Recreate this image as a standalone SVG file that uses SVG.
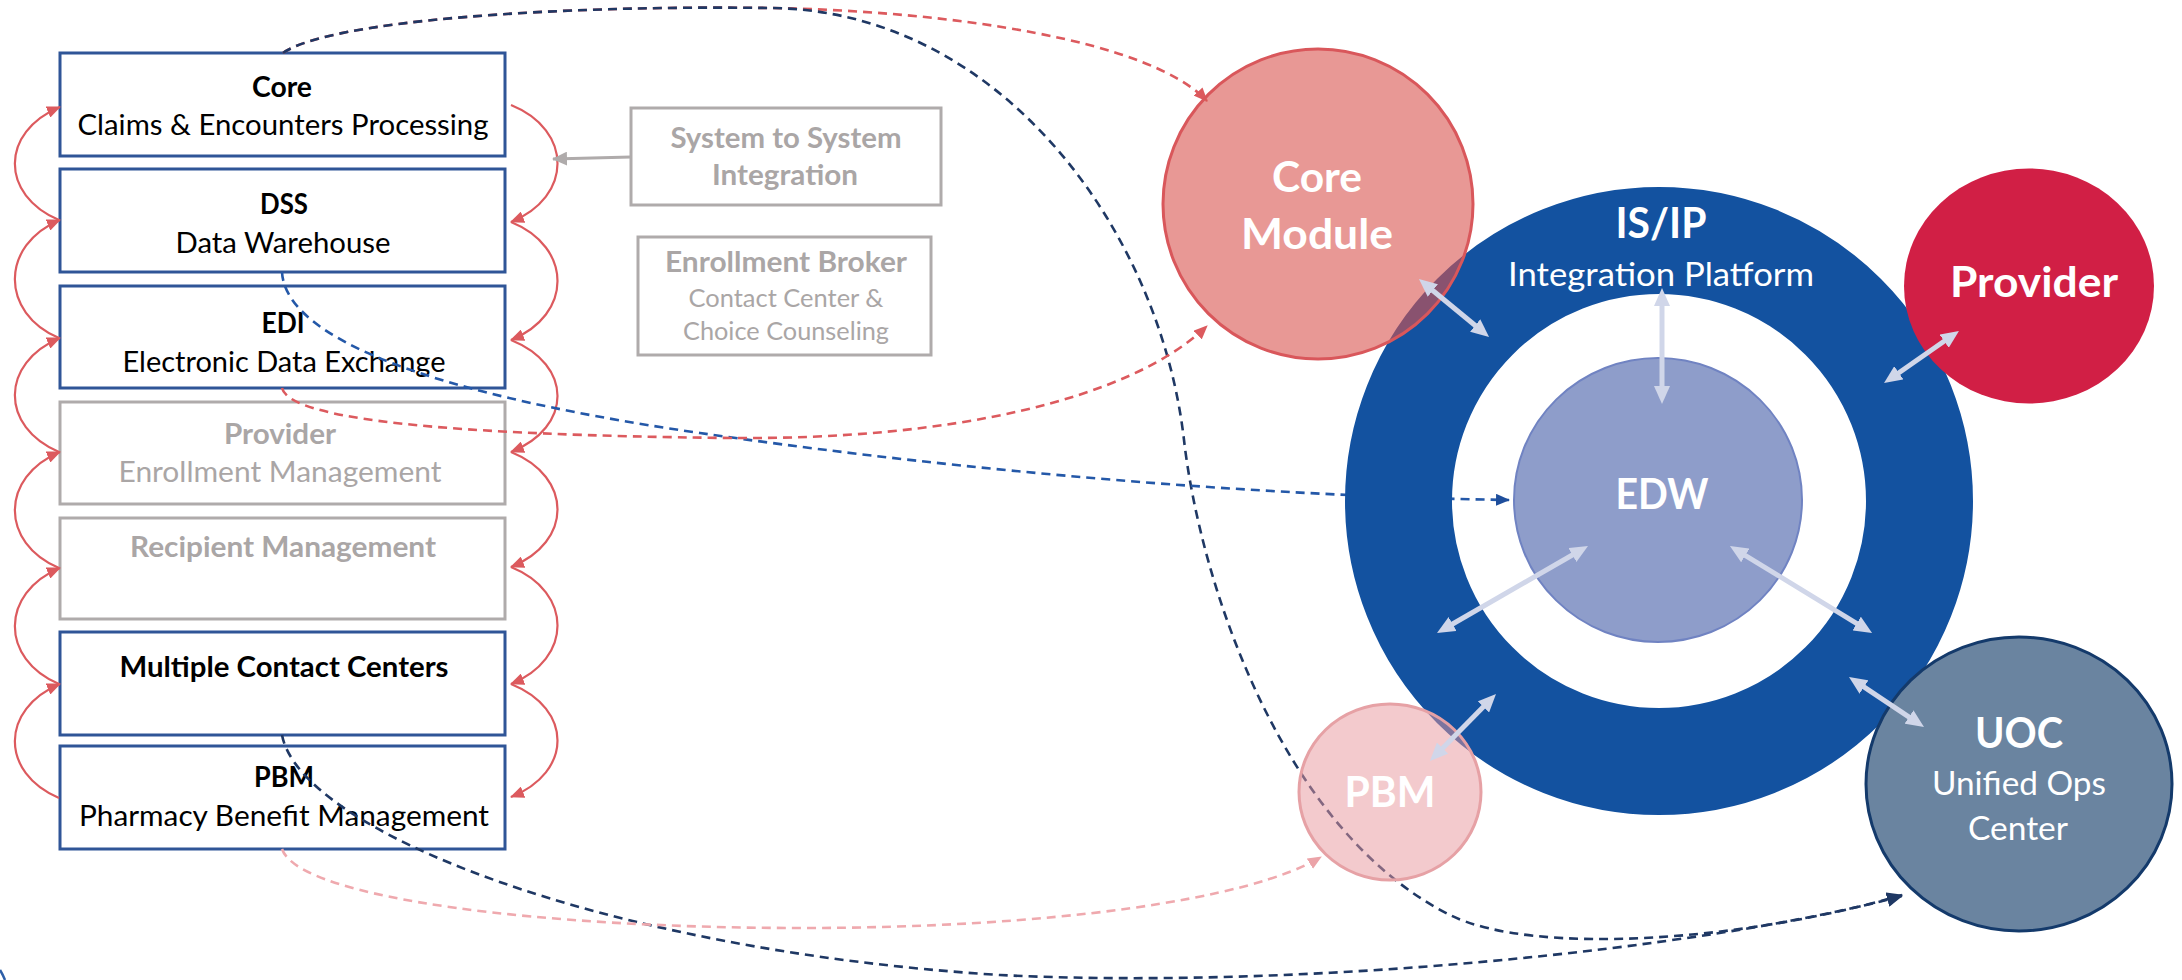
<svg xmlns="http://www.w3.org/2000/svg" width="2182" height="980" viewBox="0 0 2182 980">
<style>
.box{fill:none;stroke:#2F5597;stroke-width:3}
.gbox{fill:none;stroke:#AFABAB;stroke-width:3}
.t{font-family:Lato,'Liberation Sans',sans-serif;text-anchor:middle}
.b{font-weight:700}
.k{fill:#000}
.g{fill:#AAA6A6}
.w{fill:#fff}
.s29{font-size:29px}
.s28{font-size:28px}
.s25{font-size:25px}
.s42{font-size:42px}
.s33{font-size:32.5px}
.arc{fill:none;stroke:#DC5A5E;stroke-width:2.2;marker-end:url(#mRed)}
.dash{fill:none;stroke-width:2.6;stroke-dasharray:9 6}
.hub{stroke:#D0D6E9;stroke-width:5;marker-start:url(#mHub);marker-end:url(#mHub)}
</style>
<defs>
<marker id="mRed" markerUnits="userSpaceOnUse" viewBox="0 0 14 12" markerWidth="14" markerHeight="12" refX="13" refY="6" orient="auto"><path d="M0,0 L14,6 L0,12 z" fill="#DC5A5E"/></marker>
<marker id="mNavy" markerUnits="userSpaceOnUse" viewBox="0 0 16 14" markerWidth="16" markerHeight="14" refX="15" refY="7" orient="auto"><path d="M0,0 L16,7 L0,14 z" fill="#1F3864"/></marker>
<marker id="mBlue" markerUnits="userSpaceOnUse" viewBox="0 0 14 12" markerWidth="14" markerHeight="12" refX="13" refY="6" orient="auto"><path d="M0,0 L14,6 L0,12 z" fill="#1E4E9C"/></marker>
<marker id="mPink" markerUnits="userSpaceOnUse" viewBox="0 0 14 12" markerWidth="14" markerHeight="12" refX="13" refY="6" orient="auto"><path d="M0,0 L14,6 L0,12 z" fill="#EBA3A8"/></marker>
<marker id="mGray" markerUnits="userSpaceOnUse" viewBox="0 0 15 14" markerWidth="15" markerHeight="14" refX="14" refY="7" orient="auto"><path d="M0,0 L15,7 L0,14 z" fill="#AFABAB"/></marker>
<marker id="mHub" markerUnits="userSpaceOnUse" viewBox="0 0 18 16" markerWidth="18" markerHeight="16" refX="6" refY="8" orient="auto-start-reverse"><path d="M0,0 L18,8 L0,16 z" fill="#D0D6E9"/></marker>
</defs>

<g id="box-core"><rect class="box" x="60" y="53" width="445" height="103"/>
<text class="t b k s29" x="282" y="97" textLength="60" lengthAdjust="spacingAndGlyphs">Core</text>
<text class="t k s29" x="283" y="135" textLength="411" lengthAdjust="spacingAndGlyphs">Claims &amp; Encounters Processing</text></g>
<g id="box-dss"><rect class="box" x="60" y="169" width="445" height="103"/>
<text class="t b k s29" x="284" y="214" textLength="48" lengthAdjust="spacingAndGlyphs">DSS</text>
<text class="t k s29" x="283" y="253" textLength="215" lengthAdjust="spacingAndGlyphs">Data Warehouse</text></g>
<g id="box-edi"><rect class="box" x="60" y="286" width="445" height="102"/>
<text class="t b k s29" x="283" y="333" textLength="43" lengthAdjust="spacingAndGlyphs">EDI</text>
<text class="t k s29" x="284" y="372" textLength="323" lengthAdjust="spacingAndGlyphs">Electronic Data Exchange</text></g>
<g id="box-provider"><rect class="gbox" x="60" y="402" width="445" height="102"/>
<text class="t b g s29" x="280" y="444" textLength="112" lengthAdjust="spacingAndGlyphs">Provider</text>
<text class="t g s29" x="280" y="482" textLength="323" lengthAdjust="spacingAndGlyphs">Enrollment Management</text></g>
<g id="box-recipient"><rect class="gbox" x="60" y="518" width="445" height="101"/>
<text class="t b g s29" x="283" y="557" textLength="306" lengthAdjust="spacingAndGlyphs">Recipient Management</text></g>
<g id="box-contact"><rect class="box" x="60" y="632" width="445" height="103"/>
<text class="t b k s29" x="284" y="677" textLength="329" lengthAdjust="spacingAndGlyphs">Multiple Contact Centers</text></g>
<g id="box-pbm"><rect class="box" x="60" y="746" width="445" height="103"/>
<text class="t b k s29" x="284" y="787" textLength="60" lengthAdjust="spacingAndGlyphs">PBM</text>
<text class="t k s29" x="284" y="826" textLength="410" lengthAdjust="spacingAndGlyphs">Pharmacy Benefit Management</text></g>

<g id="box-s2s"><rect class="gbox" x="631" y="108" width="310" height="97"/>
<text class="t b g s28" x="786" y="148" textLength="231" lengthAdjust="spacingAndGlyphs">System to System</text>
<text class="t b g s28" x="785" y="185" textLength="146" lengthAdjust="spacingAndGlyphs">Integration</text></g>
<g id="box-broker"><rect class="gbox" x="638" y="237" width="293" height="118"/>
<text class="t b g s28" x="786" y="272" textLength="242" lengthAdjust="spacingAndGlyphs">Enrollment Broker</text>
<text class="t g s25" x="786" y="307" textLength="195" lengthAdjust="spacingAndGlyphs">Contact Center &amp;</text>
<text class="t g s25" x="786" y="340" textLength="206" lengthAdjust="spacingAndGlyphs">Choice Counseling</text></g>

<g id="connectors">
<path class="arc" d="M59,220 C0,195 0,132 60,107"/>
<path class="arc" d="M59,338 C0,313 0,245 60,220"/>
<path class="arc" d="M59,452 C0,427 0,363 60,338"/>
<path class="arc" d="M59,568 C0,543 0,477 60,452"/>
<path class="arc" d="M59,684 C0,659 0,593 60,568"/>
<path class="arc" d="M59,798 C0,773 0,709 60,684"/>
<path class="arc" d="M511,105 C573,130 573,197 511,222"/>
<path class="arc" d="M511,222 C573,247 573,315 511,340"/>
<path class="arc" d="M511,340 C573,365 573,427 511,452"/>
<path class="arc" d="M511,452 C573,477 573,542 511,567"/>
<path class="arc" d="M511,567 C573,592 573,659 511,684"/>
<path class="arc" d="M511,684 C573,709 573,772 511,797"/>
<path d="M631,157 L553,159" fill="none" stroke="#AFABAB" stroke-width="3" marker-end="url(#mGray)"/>
<path class="dash" stroke="#DC5A5E" d="M283,53 C330,20 560,5 770,8 C950,11 1150,40 1207,101" marker-end="url(#mRed)"/>
<path class="dash" stroke="#1F3864" d="M283,53 C330,20 560,5 770,8 C1000,10 1160,230 1184,440 C1200,580 1280,830 1450,915 C1535,957 1750,940 1902,895" marker-end="url(#mNavy)"/>
<path class="dash" stroke="#2458A8" d="M282,272 C285,330 400,390 700,433 C900,462 1200,495 1509,500" marker-end="url(#mBlue)"/>
<path class="dash" stroke="#DC5A5E" d="M282,388 C290,420 450,435 730,438 C950,440 1130,400 1207,326" marker-end="url(#mRed)"/>
<path class="dash" stroke="#1F3864" d="M282,735 C300,830 600,950 1000,975 C1300,990 1700,950 1902,896" marker-end="url(#mNavy)"/>
<path class="dash" stroke="#EFA9AE" d="M282,849 C300,900 550,928 800,928 C1050,928 1250,900 1321,857" marker-end="url(#mPink)"/>
<path d="M0,970 Q3,975 5,980" fill="none" stroke="#2E5FA8" stroke-width="2.5"/>
</g>

<g id="isip"><circle cx="1659" cy="501" r="260.5" fill="none" stroke="#1352A0" stroke-width="107"/>
<text class="t b w s42" x="1661" y="238" textLength="91" lengthAdjust="spacingAndGlyphs">IS/IP</text>
<text class="t w s33" x="1661" y="286" textLength="306" lengthAdjust="spacingAndGlyphs">Integration Platform</text></g>
<g id="edw"><ellipse cx="1658" cy="500" rx="144" ry="142" fill="#8E9DCA" stroke="#7083C2" stroke-width="2"/>
<text class="t b w s42" x="1662" y="509" textLength="93" lengthAdjust="spacingAndGlyphs">EDW</text></g>
<g id="core-module"><circle cx="1318" cy="204" r="155" fill="#D9534F" fill-opacity="0.6" stroke="#D9575B" stroke-width="3"/>
<text class="t b w s42" x="1317" y="192" textLength="90" lengthAdjust="spacingAndGlyphs">Core</text>
<text class="t b w s42" x="1317" y="249" textLength="152" lengthAdjust="spacingAndGlyphs">Module</text></g>
<g id="provider"><ellipse cx="2029" cy="286" rx="125" ry="117.5" fill="#D11F45"/>
<text class="t b w s42" x="2034" y="297" textLength="168" lengthAdjust="spacingAndGlyphs">Provider</text></g>
<g id="uoc"><ellipse cx="2019" cy="784" rx="153" ry="147" fill="#6A84A0" stroke="#143A6B" stroke-width="3"/>
<text class="t b w s42" x="2019" y="748" textLength="88" lengthAdjust="spacingAndGlyphs">UOC</text>
<text class="t w s33" x="2019" y="795" textLength="174" lengthAdjust="spacingAndGlyphs">Unified Ops</text>
<text class="t w s33" x="2018" y="840" textLength="100" lengthAdjust="spacingAndGlyphs">Center</text></g>
<g id="pbm"><ellipse cx="1390" cy="792" rx="91" ry="88" fill="#E8969C" fill-opacity="0.5" stroke="#E6A1A5" stroke-width="3"/>
<text class="t b w s42" x="1390" y="807" textLength="91" lengthAdjust="spacingAndGlyphs">PBM</text></g>

<g id="hub-connectors">
<line class="hub" x1="1428.2" y1="286.7" x2="1479.8" y2="329.3"/>
<line class="hub" x1="1662" y1="300" x2="1662" y2="392"/>
<line class="hub" x1="1949.1" y1="337.8" x2="1893.9" y2="376.2"/>
<line class="hub" x1="1577.6" y1="552" x2="1447.4" y2="627"/>
<line class="hub" x1="1740.2" y1="552.3" x2="1861.8" y2="626.7"/>
<line class="hub" x1="1859" y1="683.7" x2="1914" y2="720.3"/>
<line class="hub" x1="1487.6" y1="702.6" x2="1438.4" y2="752.4"/>
</g>
</svg>
